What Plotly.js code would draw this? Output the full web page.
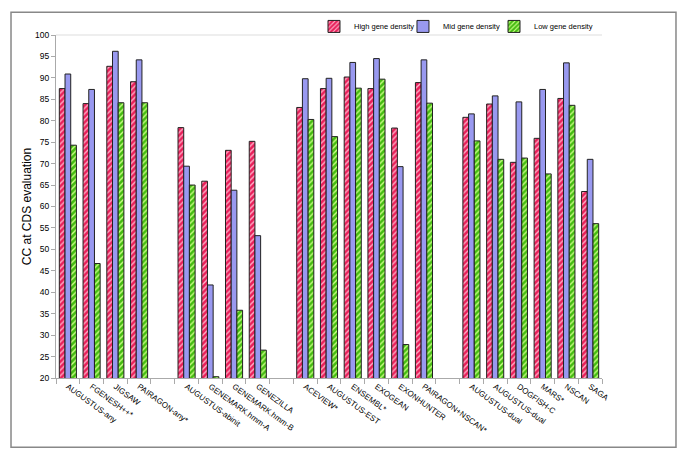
<!DOCTYPE html>
<html>
<head>
<meta charset="utf-8">
<script src="https://cdn.plot.ly/plotly-3.0.1.min.js"></script>
<style>
  html, body { margin: 0; padding: 0; background: #fff; }
  #chart { width: 685px; height: 455px; }
</style>
</head>
<body>
<div id="chart"></div>
<script>
// Categories (empty strings are the gaps between method groups)
const categories = [
  "AUGUSTUS-any", "FGENESH++*", "JIGSAW", "PAIRAGON-any*", "",
  "AUGUSTUS-abinit", "GENEMARK.hmm-A", "GENEMARK.hmm-B", "GENEZILLA", "",
  "ACEVIEW*", "AUGUSTUS-EST", "ENSEMBL*", "EXOGEAN", "EXONHUNTER", "PAIRAGON+NSCAN*", "",
  "AUGUSTUS-dual", "AUGUSTUS-dual", "DOGFISH-C", "MARS*", "NSCAN", "SAGA"
];
const seriesNames = ["High gene density", "Mid gene density", "Low gene density"];
const highDensity = [
  87.5, 84.0, 92.7, 89.1, null,
  78.4, 65.9, 73.1, 75.2, null,
  83.1, 87.5, 90.2, 87.5, 78.3, 88.9, null,
  80.8, 83.9, 70.3, 75.9, 85.2, 63.5
];
const midDensity = [
  90.9, 87.3, 96.2, 94.2, null,
  69.4, 41.7, 63.8, 53.2, null,
  89.8, 89.9, 93.6, 94.5, 69.3, 94.2, null,
  81.6, 85.8, 84.4, 87.3, 93.5, 71.0
];
const lowDensity = [
  74.3, 46.7, 84.2, 84.2, null,
  65.0, 20.3, 35.8, 26.5, null,
  80.3, 76.3, 87.6, 89.7, 27.8, 84.1, null,
  75.3, 71.0, 71.3, 67.6, 83.6, 56.0
];
const yTicks = [20, 25, 30, 35, 40, 45, 50, 55, 60, 65, 70, 75, 80, 85, 90, 95, 100];

const xPos = categories.map((c, i) => i);
const FONT = "Liberation Sans, Arial, sans-serif";

const traces = [
  {
    name: seriesNames[0], y: highDensity, legend: "legend",
    marker: { color: "#ff3f74", line: { color: "#222", width: 1 },
      pattern: { shape: "/", fgcolor: "#ffb0c8", bgcolor: "#e8205a", size: 4, solidity: 0.35 } }
  },
  {
    name: seriesNames[1], y: midDensity, legend: "legend2",
    marker: { color: "#9999f0", line: { color: "#222", width: 1 } }
  },
  {
    name: seriesNames[2], y: lowDensity, legend: "legend3",
    marker: { color: "#55cc22", line: { color: "#222", width: 1 },
      pattern: { shape: "/", fgcolor: "#ccff88", bgcolor: "#44bb11", size: 4, solidity: 0.35 } }
  }
].map(t => Object.assign({ type: "bar", x: xPos, hoverinfo: "y+name" }, t));

function legendAt(x) {
  return {
    orientation: "h", x: x, xanchor: "left", y: 1.025, yanchor: "middle",
    font: { family: FONT, size: 7.5, color: "#000" },
    bgcolor: "rgba(0,0,0,0)", itemwidth: 30
  };
}

const layout = {
  width: 685, height: 455,
  paper_bgcolor: "#fff", plot_bgcolor: "#fff",
  margin: { l: 56, r: 83, t: 31, b: 77 },
  barmode: "group", bargap: 0.28, bargroupgap: 0,
  font: { family: FONT, color: "#000", size: 10 },
  showlegend: true,
  legend: legendAt(0.4725),
  legend2: legendAt(0.6355),
  legend3: legendAt(0.8022),
  xaxis: {
    range: [-0.5, categories.length - 0.5],
    tickmode: "array", tickvals: xPos, ticktext: categories,
    tickangle: 36, ticks: "", showgrid: false, zeroline: false,
    showline: true, linecolor: "#aaa", linewidth: 1,
    tickfont: { family: FONT, size: 8, color: "#000" },
    minor: { tickmode: "linear", tick0: 0.5, dtick: 1, ticks: "outside", ticklen: 5, tickcolor: "#aaa", showgrid: false }
  },
  yaxis: {
    range: [20, 100], tickmode: "array", tickvals: yTicks,
    ticks: "outside", ticklen: 4, tickcolor: "#aaa",
    showgrid: false, zeroline: false, showline: true, linecolor: "#aaa", linewidth: 1,
    tickfont: { family: FONT, size: 8.5, color: "#000" },
    title: { text: "CC at CDS evaluation", font: { family: FONT, size: 12, color: "#000" }, standoff: 0 }
  },
  shapes: [
    { type: "line", xref: "paper", yref: "paper", x0: 0, x1: 1, y0: 1, y1: 1,
      line: { color: "#ddd", width: 1 } },
    { type: "rect", xref: "paper", yref: "paper", x0: -0.0824, x1: 1.1355, y0: -0.2017, y1: 1.0663,
      line: { color: "#888", width: 1.5 }, fillcolor: "rgba(0,0,0,0)" }
  ]
};

Plotly.newPlot("chart", traces, layout, { displayModeBar: false, staticPlot: true });
</script>
</body>
</html>
